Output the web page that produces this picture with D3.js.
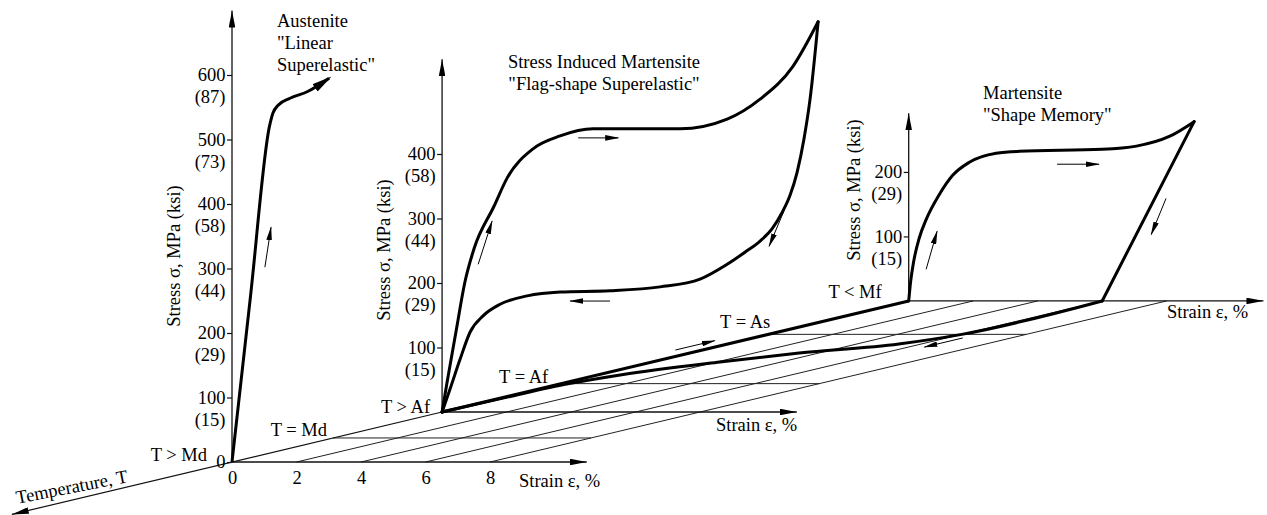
<!DOCTYPE html>
<html>
<head>
<meta charset="utf-8">
<script src="https://cdn.jsdelivr.net/npm/d3@7"></script>
<style>
  body { margin: 0; background: #fff; }
  svg text { font-family: "Liberation Serif", "Times New Roman", serif; font-size: 18.5px; fill: #000; }
</style>
</head>
<body>
<svg id="chart" width="1267" height="515"></svg>
<script>
'use strict';

// temperature levels along the depth axis (arbitrary units, 0 = T > Md, larger = colder)
var tempLabels = ['T > Md', 'T = Md', 'T > Af', 'T = Af', 'T = As', 'T < Mf'];
var tempLevels = [0, 1.0, 2.08, 3.26, 5.31, 6.70];
var tempAxisEnd = -2.18;

var stressTicks = [0, 100, 200, 300, 400, 500, 600];
var ksiTicks = [null, 15, 29, 44, 58, 73, 87];
var strainTicks = [0, 2, 4, 6, 8];
var gridStrains = [2, 4, 6, 8];
var gridLevels = [1, 3, 4]; // Md, Af, As

var panelTitles = [
  ['Austenite', '"Linear', 'Superelastic"'],
  ['Stress Induced Martensite', '"Flag-shape Superelastic"'],
  ['Martensite', '"Shape Memory"']
];
var panelTemps = [0, 2.08, 6.70];
var panelTicks = [[0, 100, 200, 300, 400, 500, 600], [100, 200, 300, 400], [100, 200]];
var panelStressMax = [700, 547, 291];
var strainAxisMax = 11;

// Austenite, linear superelastic
var austeniteStrain = [0, 0.58, 1.16, 1.27, 1.43, 1.80, 2.33, 3.01];
var austeniteStress = [0, 260, 520, 541, 553, 564, 574, 595];

// flag-shape loop
var flagLoadStrain = [0, 0.155, 0.43, 0.71, 0.99, 1.61, 2.02, 2.82, 3.66, 4.68, 7.38, 8.84, 9.86, 10.88, 11.66];
var flagLoadStress = [0, 46, 124, 202, 253, 319, 363, 408, 428, 439, 439, 454, 485, 536, 605];
var flagUnloadStrain = [11.66, 11.41, 11.22, 11.01, 10.79, 10.54, 10.23, 9.86, 9.40, 8.84, 8.0, 6.76, 5.21, 3.66, 2.64, 1.80, 1.27, 0.87, 0.56, 0.25, 0];
var flagUnloadStress = [605, 485, 423, 372, 336, 309, 284, 265, 248, 229, 206, 194, 188, 186, 180, 167, 149, 124, 82, 36, 0];

// shape memory loop
var memoryLoadStrain = [0, 0.06, 0.15, 0.33, 0.54, 0.95, 1.35, 1.88, 2.71, 3.43, 6.0, 7.06, 8.08, 8.85];
var memoryLoadStress = [0, 30, 60, 98, 126, 165, 194, 215, 229, 232, 235, 240, 255, 278];
var memoryUnloadStrain = [8.85, 6.0];
var memoryUnloadStress = [278, 0];

// strain recovery on heating (stress free, on the floor)
var recoveryStrain = [6, 6, 5.3, 3.4, 2.1, 0.7, 0.25, 0.08, 0];
var recoveryTemp = [6.70, 5.31, 4.91, 4.53, 4.16, 3.62, 3.26, 2.7, 2.08];

// small direction arrows: strain, stress, temp -> strain, stress, temp
var noteArrows = [
  [1.02, 302, 0, 1.21, 364, 0],
  [1.12, 229, 2.08, 1.55, 296, 2.08],
  [4.22, 425, 2.08, 5.46, 425, 2.08],
  [10.62, 314, 2.08, 10.14, 257, 2.08],
  [5.21, 172, 2.08, 3.97, 172, 2.08],
  [0.54, 49, 6.70, 0.88, 108, 6.70],
  [4.6, 212, 6.70, 5.9, 212, 6.70],
  [7.98, 159, 6.70, 7.52, 103, 6.70],
  [0, 10, 4.39, 0, 10, 4.78],
  [6.5, 0, 5.16, 6.5, 0, 4.78]
];

var svg = d3.select('#chart');

var xStrain = d3.scaleLinear().domain([0, 8]).range([232, 490]);
var yStress = d3.scaleLinear().domain([0, 600]).range([462, 75]);
var tDepth = d3.scaleLinear().domain([0, 1]).range([0, 101]);
var SKEW = 0.238;

function proj(e, s, t) {
  var d = tDepth(t);
  return [xStrain(e) + d, yStress(s) - SKEW * d];
}

// points sorted by x so the monotone curve keeps its shape
function pts(es, ss, t) {
  return es.map(function (e, i) { return proj(e, ss[i], t); })
    .sort(function (a, b) { return a[0] - b[0]; });
}

var straight = d3.line();
var smooth = d3.line().curve(d3.curveMonotoneX);

// markers
var defs = svg.append('defs');
function marker(id, len, half, over) {
  defs.append('marker')
    .attr('id', id)
    .attr('markerUnits', 'userSpaceOnUse')
    .attr('viewBox', (over - len) + ' ' + (-half) + ' ' + len + ' ' + (2 * half))
    .attr('refX', 0).attr('refY', 0)
    .attr('markerWidth', len).attr('markerHeight', 2 * half)
    .attr('orient', 'auto')
    .append('path')
    .attr('d', 'M' + over + ',0L' + (over - len) + ',' + (-half) + 'L' + (over - len) + ',' + half + 'Z')
    .attr('fill', '#000');
}
marker('axisArrow', 17, 3.3, 0);
marker('thinArrow', 14, 2.8, 1);
marker('thickArrow', 20, 4.5, 3);

// floor grid
var floor = svg.append('g').attr('fill', 'none').attr('stroke', '#222').attr('stroke-width', 1);
gridStrains.forEach(function (e) {
  floor.append('path').attr('d', straight([proj(e, 0, 0), proj(e, 0, tempLevels[5])]));
});
gridLevels.forEach(function (i) {
  floor.append('path').attr('d', straight([proj(0, 0, tempLevels[i]), proj(8, 0, tempLevels[i])]));
});

// temperature axis
svg.append('path')
  .attr('d', straight([proj(0, 0, panelTemps[1]), proj(0, 0, tempAxisEnd)]))
  .attr('fill', 'none').attr('stroke', '#111').attr('stroke-width', 1.2)
  .attr('marker-end', 'url(#axisArrow)');

// panel axes
panelTemps.forEach(function (t, i) {
  svg.append('path')
    .attr('d', straight([proj(0, 0, t), proj(0, panelStressMax[i], t)]))
    .attr('fill', 'none').attr('stroke', '#111').attr('stroke-width', 1.3)
    .attr('marker-end', 'url(#axisArrow)');
  svg.append('path')
    .attr('d', straight([proj(0, 0, t), proj(strainAxisMax, 0, t)]))
    .attr('fill', 'none').attr('stroke', '#111').attr('stroke-width', 1.3)
    .attr('marker-end', 'url(#axisArrow)');

  var o = proj(0, 0, t);
  var g = svg.append('g').attr('transform', 'translate(' + o[0] + ',' + (o[1] - yStress(0)) + ')');
  g.call(d3.axisLeft(yStress).tickValues(panelTicks[i]).tickSize(5).tickPadding(1.5));
  g.select('.domain').remove();
  g.selectAll('.tick line').attr('stroke', '#111').attr('stroke-width', 1.2);
  g.selectAll('.tick').append('text')
    .attr('x', -6.5).attr('y', 22).attr('dy', '0.32em')
    .attr('text-anchor', 'end')
    .text(function (v) {
      var k = ksiTicks[stressTicks.indexOf(v)];
      return k === null ? '' : '(' + k + ')';
    });
});

// strain tick labels, front panel
var sx = svg.append('g').attr('transform', 'translate(0,' + yStress(0) + ')');
sx.call(d3.axisBottom(xStrain).tickValues(strainTicks).tickSize(0).tickPadding(9));
sx.select('.domain').remove();

// thick curves
var thick = svg.append('g').attr('fill', 'none').attr('stroke', '#000')
  .attr('stroke-width', 3).attr('stroke-linecap', 'round').attr('stroke-linejoin', 'round');

thick.append('path')
  .attr('d', smooth(pts(austeniteStrain, austeniteStress, panelTemps[0])))
  .attr('stroke-linecap', 'butt')
  .attr('marker-end', 'url(#thickArrow)');

thick.append('path').attr('d', smooth(pts(flagLoadStrain, flagLoadStress, panelTemps[1])));
thick.append('path').attr('d', smooth(pts(flagUnloadStrain, flagUnloadStress, panelTemps[1])));
thick.append('path').attr('d', smooth(pts(memoryLoadStrain, memoryLoadStress, panelTemps[2])));
thick.append('path').attr('d', straight(pts(memoryUnloadStrain, memoryUnloadStress, panelTemps[2])));

thick.append('path').attr('d', straight([proj(0, 0, panelTemps[1]), proj(0, 0, panelTemps[2])]));
thick.append('path').attr('d', smooth(recoveryStrain.map(function (e, i) {
  return proj(e, 0, recoveryTemp[i]);
}).sort(function (a, b) { return a[0] - b[0]; })));

// direction arrows
svg.append('g').selectAll('path')
  .data(noteArrows)
  .enter().append('path')
  .attr('d', function (a) { return straight([proj(a[0], a[1], a[2]), proj(a[3], a[4], a[5])]); })
  .attr('fill', 'none').attr('stroke', '#000').attr('stroke-width', 1)
  .attr('marker-end', 'url(#thinArrow)');

// temperature level labels (offsets from the zero-strain point of each level)
var tempLabelOffsets = [[-25, -7], [-6, -8], [-12, -5], [-13, -7], [2, -12], [-27, -9]];
svg.append('g').selectAll('text')
  .data(tempLabels)
  .enter().append('text')
  .attr('x', function (l, i) { return proj(0, 0, tempLevels[i])[0] + tempLabelOffsets[i][0]; })
  .attr('y', function (l, i) { return proj(0, 0, tempLevels[i])[1] + tempLabelOffsets[i][1]; })
  .attr('dy', '0.33em')
  .attr('text-anchor', 'end')
  .text(function (l) { return l; });

// axis titles
var stressLabelPos = [[174, 256], [384, 250], [854, 190]];
stressLabelPos.forEach(function (p) {
  svg.append('text')
    .attr('transform', 'translate(' + p[0] + ',' + p[1] + ') rotate(-90)')
    .attr('text-anchor', 'middle').attr('dy', '0.33em')
    .text('Stress σ, MPa (ksi)');
});

var strainLabelPos = [[519, 487], [716, 431], [1167, 318]];
strainLabelPos.forEach(function (p) {
  svg.append('text').attr('x', p[0]).attr('y', p[1]).text('Strain ε, %');
});

svg.append('text')
  .attr('transform', 'translate(73,493) rotate(-11)')
  .attr('text-anchor', 'middle')
  .text('Temperature, T');

// panel titles
var titleLayout = [
  { x: 277, y: 27, anchor: 'start' },
  { x: 604, y: 68, anchor: 'middle' },
  { x: 983, y: 99, anchor: 'start' }
];
panelTitles.forEach(function (lines, i) {
  var L = titleLayout[i];
  var t = svg.append('text').attr('text-anchor', L.anchor);
  lines.forEach(function (s, k) {
    t.append('tspan').attr('x', L.x).attr('y', L.y + k * 22).text(s);
  });
});
</script>
</body>
</html>
